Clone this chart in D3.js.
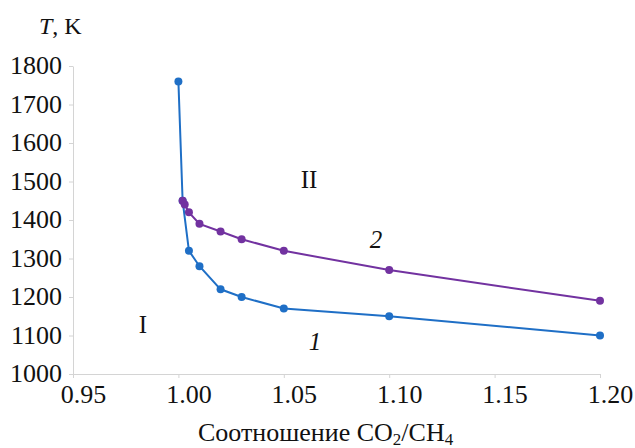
<!DOCTYPE html>
<html>
<head>
<meta charset="utf-8">
<script src="https://cdn.jsdelivr.net/npm/d3@7/dist/d3.min.js"></script>
<style>
  html, body { margin: 0; padding: 0; background: #fff; }
  svg { display: block; }
</style>
</head>
<body>
<svg id="chart" width="635" height="448"></svg>
<script>
// Curve 1: boundary between regions I and II
const ratio1 = [1.000, 1.002, 1.005, 1.010, 1.020, 1.030, 1.050, 1.100, 1.200];
const temp1  = [1760, 1450, 1320, 1280, 1220, 1200, 1170, 1150, 1100];

// Curve 2
const ratio2 = [1.002, 1.003, 1.005, 1.010, 1.020, 1.030, 1.050, 1.100, 1.200];
const temp2  = [1450, 1440, 1420, 1390, 1370, 1350, 1320, 1270, 1190];

const xTicks = [0.95, 1.00, 1.05, 1.10, 1.15, 1.20];
const yTicks = [1000, 1100, 1200, 1300, 1400, 1500, 1600, 1700, 1800];

const serif = "'Liberation Serif', 'Times New Roman', 'DejaVu Serif', serif";
const ink = "#111";

const svg = d3.select("#chart");
const plotLeft = 73, plotRight = 600, plotTop = 66, plotBottom = 374;

const x = d3.scaleLinear().domain([0.95, 1.20]).range([plotLeft, plotRight]);
const y = d3.scaleLinear().domain([1000, 1800]).range([plotBottom, plotTop]);

const axisColor = "#d4d4d4";

function styleText(sel, size) {
  return sel.style("font-family", serif).style("font-size", size + "px").style("fill", ink);
}

// Y axis
const gy = svg.append("g").attr("transform", `translate(${plotLeft},0)`)
  .call(d3.axisLeft(y).tickValues(yTicks).tickFormat(d3.format("d"))
    .tickSize(4).tickSizeOuter(0).tickPadding(7));
gy.selectAll("path.domain, line").attr("stroke", axisColor);
styleText(gy.selectAll("text"), 26).attr("dy", "0.3em");

// X axis
const gx = svg.append("g").attr("transform", `translate(0,${plotBottom})`)
  .call(d3.axisBottom(x).tickValues(xTicks).tickFormat(d3.format(".2f"))
    .tickSize(4).tickSizeOuter(0).tickPadding(7));
gx.selectAll("path.domain, line").attr("stroke", axisColor);
styleText(gx.selectAll("text"), 26).attr("dx", 10).attr("dy", "0.68em");

// Axis titles
const yt = styleText(svg.append("text").attr("x", 39).attr("y", 34), 24);
yt.append("tspan").style("font-style", "italic").text("T");
yt.append("tspan").text(", K");

const xt = styleText(svg.append("text").attr("x", 198).attr("y", 441), 26);
xt.append("tspan").text("Соотношение CO");
xt.append("tspan").style("font-size", "17px").attr("dy", 4).text("2");
xt.append("tspan").attr("dy", -4).text("/CH");
xt.append("tspan").style("font-size", "17px").attr("dy", 4).text("4");

// Series
const series = [
  { xs: ratio1, ys: temp1, color: "#1f6fc6" },
  { xs: ratio2, ys: temp2, color: "#7232a0" }
];
const line = d3.line().x(d => x(d[0])).y(d => y(d[1]));

series.forEach(s => {
  const pts = s.xs.map((v, i) => [v, s.ys[i]]);
  svg.append("path").datum(pts)
    .attr("d", line).attr("fill", "none")
    .attr("stroke", s.color).attr("stroke-width", 2);
  svg.append("g").selectAll("circle").data(pts).join("circle")
    .attr("cx", d => x(d[0])).attr("cy", d => y(d[1]))
    .attr("r", 4).attr("fill", s.color);
});

// Region and curve labels
const labels = [
  { t: "I",  x: 143, y: 333, italic: false },
  { t: "II", x: 309, y: 188, italic: false },
  { t: "2",  x: 376, y: 248, italic: true },
  { t: "1",  x: 315, y: 350, italic: true }
];
labels.forEach(l => {
  styleText(svg.append("text"), 25)
    .attr("x", l.x).attr("y", l.y).attr("text-anchor", "middle")
    .style("font-style", l.italic ? "italic" : "normal").text(l.t);
});
</script>
</body>
</html>
